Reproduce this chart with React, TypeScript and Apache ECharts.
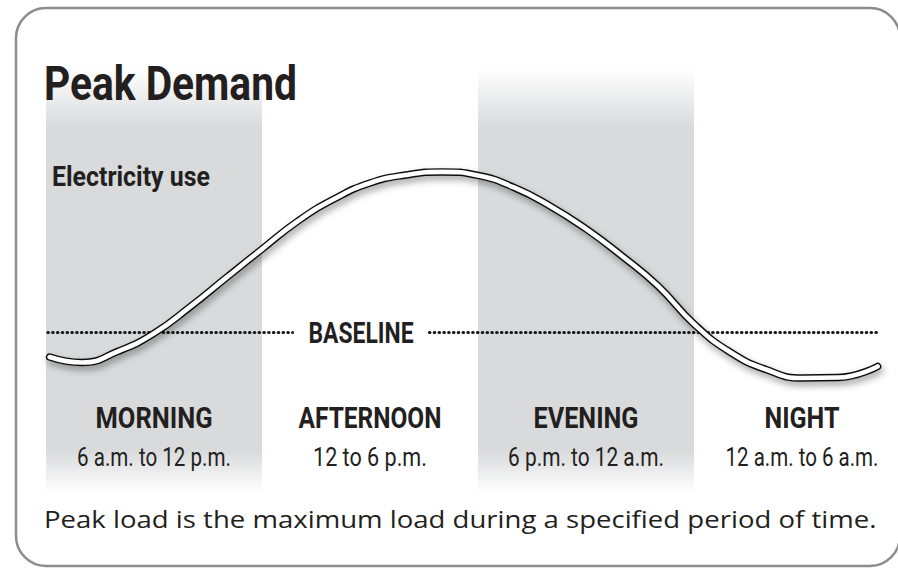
import React, { useEffect, useRef } from "react";
import * as echarts from "echarts";

// hours since 6 a.m. and relative electricity use
const hours = [0.1, 1, 2, 3, 4, 5, 6, 7, 8, 9, 10, 11, 12, 13, 14, 15, 16, 17, 18, 19, 20, 21, 22, 23.1];
const usage = [17.6, 15.3, 20.0, 27.6, 38.8, 51.1, 63.3, 75.2, 84.5, 91.3, 94.7, 96.0, 94.5, 89.4, 81.6, 71.9, 60.4, 47.7, 31.6, 19.7, 12.3, 8.7, 8.9, 13.6];
const baselineValue = 28;
const baselineSegments = [[0.05, 6.85], [10.65, 23.1]];
const baselineLabelHour = 8.75;
const periodNames = ["MORNING", "AFTERNOON", "EVENING", "NIGHT"];
const periodRanges = ["6 a.m. to 12 p.m.", "12 to 6 p.m.", "6 p.m. to 12 a.m.", "12 a.m. to 6 a.m."];
const periodStarts = [0, 6, 12, 18];
const periodLength = 6;
const shadedPeriods = [0, 2];

const BOLD = "Roboto, 'Noto Sans', sans-serif";
const BODY = "'Open Sans', 'Noto Sans', sans-serif";
const INK = "#231f20";

const ctx = document.createElement("canvas").getContext("2d")!;
function fit(text: string, font: string, target: number) {
  ctx.font = font;
  const w = ctx.measureText(text).width;
  return w > 0 ? target / w : 1;
}

function label(text: string, font: string, target: number, x: number, y: number, align = "left") {
  return {
    type: "text",
    z: 100,
    silent: true,
    x,
    y,
    scaleX: fit(text, font, target),
    style: { text, font, fill: INK, textAlign: align, textVerticalAlign: "middle" },
  };
}

export default function App() {
  const ref = useRef<HTMLDivElement>(null);
  useEffect(() => {
    const chart = echarts.init(ref.current!, null, { renderer: "svg" });
    const curve = hours.map((h, i) => [h, usage[i]]);
    const baseData: any[] = [];
    baselineSegments.forEach((s, i) => {
      if (i > 0) baseData.push([null, null]);
      baseData.push([s[0], baselineValue], [s[1], baselineValue]);
    });
    chart.setOption({
      animation: false,
      backgroundColor: "#ffffff",
      grid: { left: 46, right: 0, top: 68, bottom: 75 },
      xAxis: { type: "value", min: 0, max: 24, show: false },
      yAxis: { type: "value", min: -40, max: 140, show: false },
      series: [
        {
          type: "line",
          data: [],
          z: 1,
          silent: true,
          markArea: {
            silent: true,
            itemStyle: {
              color: {
                type: "linear", x: 0, y: 0, x2: 0, y2: 1,
                colorStops: [
                  { offset: 0, color: "#ffffff" },
                  { offset: 0.14, color: "#d9dadc" },
                  { offset: 0.9, color: "#d9dadc" },
                  { offset: 1, color: "#ffffff" },
                ],
              },
            },
            data: shadedPeriods.map((i) => [
              { xAxis: periodStarts[i] },
              { xAxis: periodStarts[i] + periodLength },
            ]),
          },
        },
        {
          type: "line",
          data: baseData,
          z: 2,
          silent: true,
          showSymbol: false,
          connectNulls: false,
          lineStyle: { color: "#1a1a1a", width: 3, type: [0.6, 4.2], cap: "round" },
        },
        {
          type: "line",
          data: curve,
          z: 3,
          smooth: 0.5,
          showSymbol: false,
          silent: true,
          lineStyle: {
            color: "#111111",
            width: 7.5,
            cap: "round",
            shadowColor: "rgba(0,0,0,0.35)",
            shadowBlur: 7,
            shadowOffsetX: 2,
            shadowOffsetY: 4,
          },
        },
        {
          type: "line",
          data: curve,
          z: 4,
          smooth: 0.5,
          showSymbol: false,
          silent: true,
          lineStyle: { color: "#ffffff", width: 4.6, cap: "round" },
        },
      ],
    });

    const px = (h: number, v: number) => chart.convertToPixel({ gridIndex: 0 }, [h, v]) as number[];
    const nameWidths = [117, 143, 105, 75];
    const rangeWidths = [154, 114, 156, 153];
    const graphics: any[] = [
      {
        type: "rect",
        z: 100,
        silent: true,
        shape: { x: 16, y: 8, width: 884, height: 558, r: 30 },
        style: { fill: "none", stroke: "#8c8c8c", lineWidth: 2.5 },
      },
      label("Peak Demand", `bold 49px ${BOLD}`, 253, 44, 83),
      label("Electricity use", `bold 27px ${BOLD}`, 158, 52, 177),
      label("Peak load is the maximum load during a specified period of time.", `24px ${BODY}`, 833, 44, 519),
    ];
    const bp = px(baselineLabelHour, baselineValue);
    graphics.push(label("BASELINE", `bold 30px ${BOLD}`, 105, bp[0], bp[1] + 0.5, "center"));
    periodNames.forEach((n, i) => {
      const c = px(periodStarts[i] + periodLength / 2, 0)[0];
      graphics.push(label(n, `bold 30px ${BOLD}`, nameWidths[i], c, 418, "center"));
      graphics.push(label(periodRanges[i], `26px ${BOLD}`, rangeWidths[i], c, 457, "center"));
    });
    chart.setOption({ graphic: graphics });
    return () => chart.dispose();
  }, []);
  return <div ref={ref} style={{ position: "fixed", left: 0, top: 0, width: 910, height: 568 }} />;
}
